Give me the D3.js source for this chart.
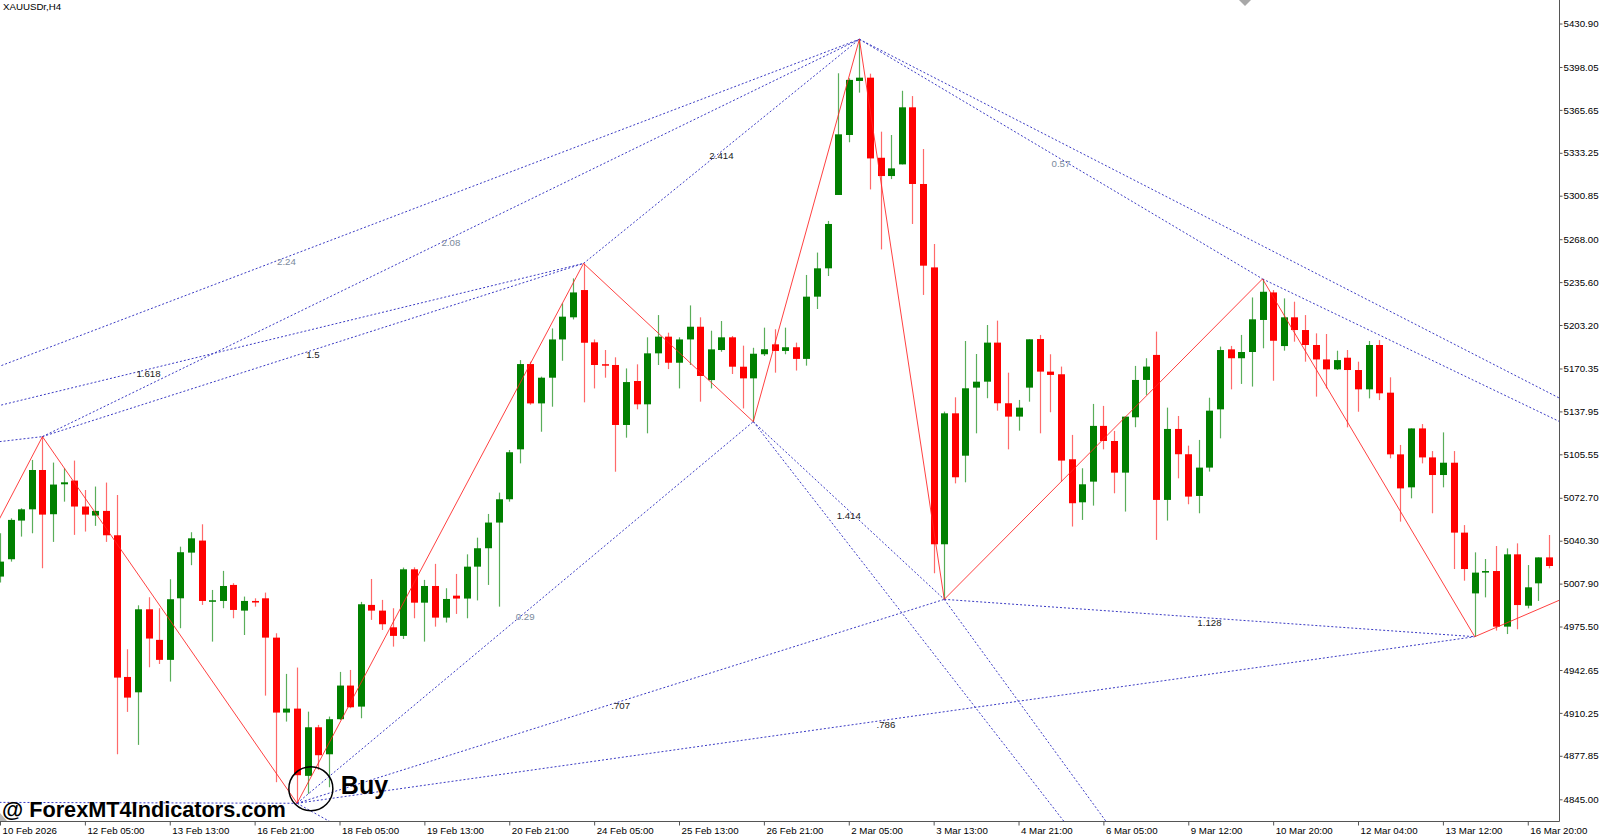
<!DOCTYPE html>
<html>
<head>
<meta charset="utf-8">
<script src="https://cdn.jsdelivr.net/npm/d3@7"></script>
<style>
  html, body { margin: 0; padding: 0; background: #fff; }
  svg { display: block; font-family: "Liberation Sans", Arial, sans-serif; }
</style>
</head>
<body>
<svg id="chart" width="1600" height="836"></svg>
<script>
// XAUUSDr H4 candles, bar 0 = leftmost bar
const opens = [
  5013.2, 5026.3, 5055.5, 5064.0, 5093.7, 5060.3, 5082.9, 5085.7, 5066.1, 5059.3,
  5062.8, 5044.4, 4937.4, 4925.8, 4988.5, 4965.4, 4950.3, 4996.8, 5031.3, 5040.4,
  4994.3, 4994.8, 5006.9, 4987.5, 4994.8, 4996.8, 4967.1, 4910.5, 4913.5, 4862.7,
  4899.4, 4879.0, 4905.5, 4930.9, 4915.0, 4991.8, 4987.5, 4974.9, 4968.4, 5018.7,
  4993.5, 5006.1, 4982.2, 4998.8, 4996.6, 5020.7, 5034.6, 5054.0, 5071.6, 5109.3,
  5173.7, 5144.0, 5163.4, 5192.3, 5209.0, 5229.6, 5190.1, 5173.6, 5173.0, 5127.7,
  5160.9, 5143.3, 5181.8, 5194.4, 5174.7, 5192.3, 5201.9, 5161.6, 5184.3, 5193.9,
  5171.7, 5162.9, 5181.1, 5188.6, 5183.6, 5186.4, 5177.6, 5224.6, 5246.0, 5301.4,
  5346.7, 5387.5, 5390.0, 5329.5, 5315.7, 5324.5, 5367.6, 5309.7, 5246.7, 5037.6,
  5136.5, 5104.5, 5155.9, 5160.4, 5189.9, 5144.1, 5134.0, 5155.9, 5192.6, 5168.0,
  5166.0, 5101.8, 5069.3, 5084.9, 5127.0, 5115.6, 5091.7, 5133.5, 5161.7, 5180.6,
  5071.1, 5124.7, 5105.6, 5074.1, 5095.5, 5139.5, 5184.8, 5178.1, 5182.8, 5207.0,
  5227.8, 5187.3, 5209.0, 5199.4, 5188.1, 5177.2, 5169.7, 5178.5, 5169.2, 5154.6,
  5188.1, 5152.1, 5105.5, 5080.6, 5125.1, 5103.2, 5089.9, 5099.2, 5046.4, 5000.5,
  5016.2, 5017.4, 4975.4, 5030.0, 4991.2, 5008.1, 5027.7
];
const highs = [
  5045.9, 5057.2, 5064.8, 5101.3, 5118.9, 5099.3, 5095.0, 5100.8, 5078.6, 5081.2,
  5084.2, 5074.9, 4958.3, 4991.5, 4997.6, 4989.3, 5011.2, 5035.8, 5046.7, 5052.7,
  5003.1, 5017.5, 5008.2, 4998.1, 4996.8, 5001.1, 4970.4, 4939.7, 4944.5, 4911.2,
  4901.2, 4907.5, 4941.2, 4942.7, 4994.1, 5011.4, 4995.6, 4989.3, 5020.0, 5020.2,
  5010.7, 5022.8, 5004.4, 5015.2, 5030.0, 5042.6, 5060.5, 5076.6, 5108.8, 5176.7,
  5175.5, 5164.2, 5200.6, 5219.5, 5238.4, 5249.7, 5192.3, 5184.3, 5178.8, 5170.4,
  5173.5, 5193.9, 5210.7, 5197.4, 5193.9, 5218.0, 5209.0, 5198.9, 5206.2, 5194.9,
  5187.6, 5186.0, 5201.2, 5200.0, 5201.2, 5189.9, 5241.0, 5257.9, 5281.8, 5393.3,
  5389.5, 5419.0, 5393.0, 5349.2, 5346.7, 5380.1, 5376.1, 5336.1, 5264.4, 5137.8,
  5148.6, 5191.1, 5181.3, 5203.2, 5206.5, 5167.2, 5146.6, 5192.4, 5195.7, 5181.1,
  5171.8, 5120.2, 5095.0, 5143.6, 5142.1, 5123.2, 5134.0, 5172.3, 5178.1, 5198.2,
  5140.8, 5134.5, 5112.1, 5116.4, 5148.3, 5186.9, 5187.4, 5195.7, 5224.0, 5238.0,
  5229.6, 5223.3, 5220.8, 5210.7, 5196.9, 5196.4, 5183.8, 5184.3, 5175.5, 5191.1,
  5191.8, 5163.7, 5112.6, 5125.1, 5128.4, 5108.0, 5122.1, 5108.0, 5052.1, 5031.5,
  5026.5, 5036.3, 5034.5, 5038.3, 5021.9, 5027.7, 5044.6
];
const lows = [
  5008.7, 5024.5, 5043.4, 5045.9, 5019.5, 5039.4, 5069.8, 5044.7, 5047.2, 5051.5,
  5039.4, 4879.0, 4911.0, 4886.1, 4944.7, 4947.2, 4933.9, 4974.2, 5021.8, 4991.8,
  4964.1, 4989.3, 4981.7, 4969.1, 4990.5, 4923.3, 4857.9, 4903.7, 4842.0, 4849.1,
  4867.2, 4854.1, 4904.9, 4913.8, 4906.2, 4980.5, 4972.9, 4960.3, 4966.1, 4981.7,
  4964.1, 4975.4, 4978.5, 4985.0, 4981.7, 4995.2, 5006.9, 4990.5, 5069.8, 5098.7,
  5143.0, 5122.6, 5141.5, 5176.2, 5207.4, 5144.8, 5155.3, 5163.4, 5092.4, 5118.1,
  5139.5, 5121.4, 5173.0, 5169.9, 5155.3, 5173.0, 5145.3, 5155.3, 5183.0, 5166.2,
  5140.2, 5130.2, 5179.8, 5167.2, 5181.1, 5168.8, 5172.5, 5215.3, 5240.2, 5301.4,
  5341.2, 5378.7, 5305.6, 5260.3, 5313.4, 5324.5, 5279.5, 5225.9, 5015.7, 4996.0,
  5083.6, 5084.4, 5121.4, 5147.9, 5138.5, 5109.3, 5123.4, 5145.3, 5121.4, 5137.3,
  5084.9, 5051.0, 5056.0, 5066.8, 5109.3, 5076.1, 5062.3, 5126.0, 5150.4, 5040.9,
  5055.5, 5087.4, 5067.8, 5061.0, 5092.5, 5117.6, 5154.6, 5158.7, 5156.7, 5185.6,
  5161.1, 5183.8, 5190.6, 5175.5, 5149.1, 5155.3, 5169.2, 5125.9, 5137.7, 5147.8,
  5146.5, 5102.5, 5054.7, 5072.3, 5098.7, 5061.0, 5080.6, 5018.9, 5010.1, 4967.8,
  4997.5, 4972.4, 4969.8, 4973.4, 4989.2, 4994.8, 5019.4
];
const closes = [
  5024.5, 5056.0, 5064.0, 5093.7, 5060.0, 5082.7, 5084.4, 5066.1, 5060.0, 5062.8,
  5044.4, 4936.9, 4921.8, 4988.5, 4966.4, 4950.3, 4996.1, 5031.6, 5042.1, 4994.8,
  4995.3, 5006.1, 4988.0, 4994.8, 4993.6, 4967.1, 4910.5, 4913.5, 4863.2, 4899.4,
  4878.3, 4905.5, 4930.9, 4914.5, 4992.3, 4987.5, 4977.2, 4968.4, 5018.7, 4993.5,
  5006.1, 4982.2, 4996.3, 4996.6, 5020.7, 5034.6, 5054.0, 5071.6, 5107.1, 5173.7,
  5144.0, 5163.4, 5192.3, 5209.5, 5227.8, 5189.8, 5173.0, 5173.2, 5127.7, 5160.1,
  5143.3, 5181.8, 5194.4, 5174.7, 5192.3, 5201.9, 5164.7, 5184.8, 5193.9, 5171.7,
  5162.9, 5181.5, 5184.9, 5183.6, 5186.4, 5177.6, 5224.6, 5246.0, 5279.5, 5347.2,
  5388.3, 5390.0, 5329.0, 5315.7, 5321.5, 5367.6, 5309.7, 5248.0, 5037.6, 5136.5,
  5088.2, 5155.4, 5160.4, 5189.9, 5144.1, 5134.0, 5140.8, 5192.4, 5168.0, 5165.5,
  5100.8, 5068.6, 5082.9, 5127.0, 5115.6, 5091.7, 5134.0, 5161.7, 5171.8, 5071.1,
  5124.7, 5105.6, 5073.6, 5095.5, 5138.5, 5184.3, 5178.1, 5182.8, 5207.5, 5228.3,
  5191.3, 5209.0, 5199.4, 5188.1, 5177.2, 5169.7, 5176.7, 5169.2, 5154.6, 5188.1,
  5151.6, 5105.5, 5079.8, 5125.1, 5103.2, 5089.9, 5099.2, 5046.4, 5018.9, 5016.2,
  5017.4, 4975.4, 5030.0, 4991.7, 5005.1, 5027.7, 5021.2
];

const priceTicks = [4845.00, 4877.85, 4910.25, 4942.65, 4975.50, 5007.90, 5040.30, 5072.70,
  5105.55, 5137.95, 5170.35, 5203.20, 5235.60, 5268.00, 5300.85, 5333.25, 5365.65, 5398.05, 5430.90];

const timeTickBars = [0, 8, 16, 24, 32, 40, 48, 56, 64, 72, 80, 88, 96, 104, 112, 120, 128, 136, 144];
const timeLabels = ["10 Feb 2026", "12 Feb 05:00", "13 Feb 13:00", "16 Feb 21:00", "18 Feb 05:00",
  "19 Feb 13:00", "20 Feb 21:00", "24 Feb 05:00", "25 Feb 13:00", "26 Feb 21:00", "2 Mar 05:00",
  "3 Mar 13:00", "4 Mar 21:00", "6 Mar 05:00", "9 Mar 12:00", "10 Mar 20:00", "12 Mar 04:00",
  "13 Mar 12:00", "16 Mar 20:00"];

// zigzag pivots (bar index, price); X and P0 lie before the first visible bar
const pivotNames = ["X", "P0", "P1", "P2", "P3", "P4", "P5", "P6", "P7", "P8", "P9"];
const pivotBars = [-27, -14, 4, 28, 55, 71, 81, 89, 119, 139, 150];
const pivotPrices = [5089.9, 4843.0, 5118.9, 4842.0, 5249.7, 5130.2, 5419.0, 4996.0, 5238.0, 4967.8, 5005.8];

// ratio lines between pivots: [from, to, label, fib level?]
const ratioLines = [
  ["X", "P1", "", false],
  ["X", "P3", "1.618", true],
  ["X", "P5", "2.24", false],
  ["P1", "P3", "1.5", true],
  ["P1", "P5", "2.08", false],
  ["P3", "P5", "2.414", true],
  ["P5", "P7", "0.57", false],
  ["P0", "P2", "", false],
  ["P2", "P4", "0.29", false],
  ["P2", "P6", ".707", true],
  ["P2", "P8", ".786", true],
  ["P4", "P6", "1.414", true],
  ["P6", "P8", "1.128", true]
];

// projection rays leaving the chart: [from pivot, target bar, target price]
const projections = [
  ["P5", 150, 5135.6],
  ["P7", 150, 5118.7],
  ["P4", 104, 4790.0],
  ["P6", 107, 4798.0],
  ["P2", 33, 4819.6]
];

const buyBar = 29.3;
const buyPrice = 4853.0;
const symbolTitle = "XAUUSDr,H4";
const watermark = "@ ForexMT4Indicators.com";

// ---------------------------------------------------------------
const W = 1600, H = 836;
const plotRight = 1559, plotBottom = 821;

const svg = d3.select("#chart");
svg.append("rect").attr("width", W).attr("height", H).attr("fill", "#fff");

const x = d3.scaleLinear().domain([0, 146]).range([0, 1549]);
const y = d3.scaleLinear().domain([4845.00, 5430.90]).range([799.3, 23.5]);

svg.append("defs").append("clipPath").attr("id", "plot-clip")
  .append("rect").attr("x", 0).attr("y", 0).attr("width", plotRight).attr("height", plotBottom);

const plot = svg.append("g").attr("clip-path", "url(#plot-clip)");

const bars = opens.map((o, i) => ({ i, o, h: highs[i], l: lows[i], c: closes[i], up: closes[i] >= o }));

// wicks
plot.append("g").selectAll("line")
  .data(bars)
  .join("line")
  .attr("x1", d => Math.round(x(d.i)) + 0.5)
  .attr("x2", d => Math.round(x(d.i)) + 0.5)
  .attr("y1", d => y(d.h))
  .attr("y2", d => y(d.l))
  .attr("stroke", d => d.up ? "#5aae5a" : "#ff6a6a")
  .attr("stroke-width", 1.2);

// bodies
plot.append("g").selectAll("rect")
  .data(bars)
  .join("rect")
  .attr("x", d => Math.round(x(d.i)) - 3)
  .attr("width", 7)
  .attr("y", d => y(Math.max(d.o, d.c)))
  .attr("height", d => Math.max(1.5, Math.abs(y(d.o) - y(d.c))))
  .attr("fill", d => d.up ? "#008000" : "#ff0000");

const pivot = {};
pivotNames.forEach((n, i) => { pivot[n] = { bar: pivotBars[i], price: pivotPrices[i] }; });

// dotted ratio lines
const dotted = plot.append("g")
  .attr("stroke", "#3b3bc4")
  .attr("stroke-width", 1)
  .attr("stroke-dasharray", "2,2")
  .attr("fill", "none");

dotted.selectAll("line.ratio")
  .data(ratioLines)
  .join("line")
  .attr("class", "ratio")
  .attr("x1", d => x(pivot[d[0]].bar))
  .attr("y1", d => y(pivot[d[0]].price))
  .attr("x2", d => x(pivot[d[1]].bar))
  .attr("y2", d => y(pivot[d[1]].price));

dotted.selectAll("line.proj")
  .data(projections)
  .join("line")
  .attr("class", "proj")
  .attr("x1", d => x(pivot[d[0]].bar))
  .attr("y1", d => y(pivot[d[0]].price))
  .attr("x2", d => x(d[1]))
  .attr("y2", d => y(d[2]));

// red zigzag
const zigzag = d3.line()
  .x(n => x(pivot[n].bar))
  .y(n => y(pivot[n].price));

plot.append("path")
  .attr("d", zigzag(pivotNames.slice(1)))
  .attr("fill", "none")
  .attr("stroke", "#ff2020")
  .attr("stroke-opacity", 0.85)
  .attr("stroke-width", 1);

// ratio labels at line midpoints
plot.append("g").selectAll("text")
  .data(ratioLines.filter(d => d[2] !== ""))
  .join("text")
  .attr("x", d => (x(pivot[d[0]].bar) + x(pivot[d[1]].bar)) / 2)
  .attr("y", d => (y(pivot[d[0]].price) + y(pivot[d[1]].price)) / 2 + 8)
  .attr("text-anchor", "middle")
  .attr("font-size", "9.7px")
  .attr("fill", d => d[3] ? "#1a1a1a" : "#7a8a9c")
  .text(d => d[2]);

// axes
svg.append("line")
  .attr("x1", plotRight + 0.5).attr("x2", plotRight + 0.5)
  .attr("y1", 0).attr("y2", plotBottom + 0.5)
  .attr("stroke", "#555").attr("stroke-width", 1);
svg.append("line")
  .attr("x1", 0).attr("x2", plotRight + 0.5)
  .attr("y1", plotBottom + 0.5).attr("y2", plotBottom + 0.5)
  .attr("stroke", "#555").attr("stroke-width", 1);

const yAxis = svg.append("g")
  .attr("transform", `translate(${plotRight + 0.5},0)`)
  .call(d3.axisRight(y).tickValues(priceTicks).tickFormat(d3.format(".2f")).tickSize(3).tickPadding(1));
yAxis.select(".domain").remove();
yAxis.selectAll("line").attr("stroke", "#555");
yAxis.selectAll("text").attr("font-size", "9.7px").attr("fill", "#000")
  .attr("font-family", "Liberation Sans, Arial, sans-serif");

const xAxis = svg.append("g")
  .attr("transform", `translate(0,${plotBottom + 0.5})`)
  .call(d3.axisBottom(x).tickValues(timeTickBars).tickFormat((d, i) => timeLabels[i]).tickSize(4).tickPadding(2));
xAxis.select(".domain").remove();
xAxis.selectAll("line").attr("stroke", "#555");
xAxis.selectAll("text").attr("font-size", "9.7px").attr("fill", "#000")
  .attr("text-anchor", "start").attr("x", 2)
  .attr("font-family", "Liberation Sans, Arial, sans-serif");

// symbol caption
svg.append("text")
  .attr("x", 3).attr("y", 10)
  .attr("font-size", "9.7px").attr("fill", "#000")
  .text(symbolTitle);

// chart-shift markers
svg.append("path").attr("d", "M1239,0 L1251,0 L1245,6 Z").attr("fill", "#a8a8a8");
svg.append("path").attr("d", "M0,813 L0,821 L7,821 Z").attr("fill", "#b8b8b8");

// buy signal
svg.append("circle")
  .attr("cx", x(buyBar)).attr("cy", y(buyPrice)).attr("r", 22)
  .attr("fill", "none").attr("stroke", "#000").attr("stroke-width", 1.5);
svg.append("text")
  .attr("x", x(buyBar) + 30).attr("y", y(buyPrice) + 5.5)
  .attr("font-size", "25px").attr("font-weight", "bold").attr("fill", "#000")
  .text("Buy");

svg.append("text")
  .attr("x", 2).attr("y", 817)
  .attr("font-size", "21.7px").attr("font-weight", "bold").attr("fill", "#000")
  .text(watermark);
</script>
</body>
</html>
